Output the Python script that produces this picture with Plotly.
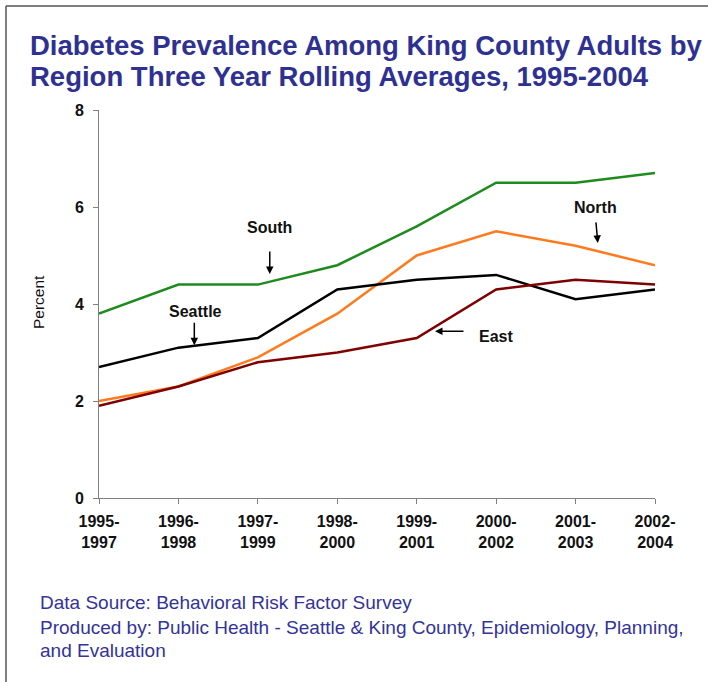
import plotly.graph_objects as go

periods = ["1995-<br>1997", "1996-<br>1998", "1997-<br>1999", "1998-<br>2000",
           "1999-<br>2001", "2000-<br>2002", "2001-<br>2003", "2002-<br>2004"]
south = [3.8, 4.4, 4.4, 4.8, 5.6, 6.5, 6.5, 6.7]
north = [2.0, 2.3, 2.9, 3.8, 5.0, 5.5, 5.2, 4.8]
seattle = [2.7, 3.1, 3.3, 4.3, 4.5, 4.6, 4.1, 4.3]
east = [1.9, 2.3, 2.8, 3.0, 3.3, 4.3, 4.5, 4.4]
y_ticks = [0, 2, 4, 6, 8]

W, H = 708, 682
L, R, T, B = 99, 53, 110, 184
PW, PH = W - L - R, H - T - B
FONT = "Arial, Liberation Sans, sans-serif"
BLUE = "#2E3192"

def px(x):
    return (x - L) / PW

def py(y):
    return (H - B - y) / PH

x_idx = list(range(len(periods)))
fig = go.Figure()
for name, vals, col in [("South", south, "#1E8B1E"), ("North", north, "#FF7A1F"),
                        ("Seattle", seattle, "#000000"), ("East", east, "#7F0000")]:
    fig.add_trace(go.Scatter(x=x_idx, y=vals, mode="lines", name=name,
                             line=dict(color=col, width=2.5), showlegend=False))

anns = []
labels = [("South", 2.15, 5.57), ("North", 6.25, 5.98), ("Seattle", 1.21, 3.84), ("East", 5.0, 3.34)]
for t, x, y in labels:
    anns.append(dict(x=x, y=y, xref="x", yref="y", text="<b>" + t + "</b>", showarrow=False,
                     font=dict(family=FONT, size=16, color="#111111")))
arrows = [(2.15, 4.62, 0, -24), (6.28, 5.26, -2, -22), (1.2, 3.15, 0, -24), (4.23, 3.44, 30, 0)]
for x, y, ax, ay in arrows:
    anns.append(dict(x=x, y=y, xref="x", yref="y", ax=ax, ay=ay, text="", showarrow=True,
                     arrowhead=2, arrowsize=1, arrowwidth=1.5, arrowcolor="#000000"))

anns.append(dict(x=px(28), y=py(46), xref="paper", yref="paper", xanchor="left", yanchor="middle",
                 text="<b>Diabetes Prevalence Among King County Adults by</b>", showarrow=False,
                 font=dict(family=FONT, size=27.5, color=BLUE)))
anns.append(dict(x=px(28), y=py(76), xref="paper", yref="paper", xanchor="left", yanchor="middle",
                 text="<b>Region Three Year Rolling Averages, 1995-2004</b>", showarrow=False,
                 font=dict(family=FONT, size=27.5, color=BLUE)))
anns.append(dict(x=px(38), y=py(302), xref="paper", yref="paper", xanchor="center", yanchor="middle",
                 text="Percent", textangle=-90,
                 showarrow=False, font=dict(family=FONT, size=15.5, color="#111111")))
for t, y in [("Data Source: Behavioral Risk Factor Survey", 602),
             ("Produced by: Public Health - Seattle & King County, Epidemiology, Planning,", 627),
             ("and Evaluation", 650)]:
    anns.append(dict(x=px(38), y=py(y), xref="paper", yref="paper", xanchor="left", yanchor="middle",
                     text=t, showarrow=False, font=dict(family=FONT, size=19, color="#33339A")))

shapes = [
    dict(type="line", xref="paper", yref="paper", x0=px(6), x1=px(708), y0=py(6), y1=py(6),
         line=dict(color="#555555", width=1.5)),
    dict(type="line", xref="paper", yref="paper", x0=px(6), x1=px(6), y0=py(6), y1=py(682),
         line=dict(color="#555555", width=1.5)),
]

fig.update_layout(
    width=W, height=H, margin=dict(l=L, r=R, t=T, b=B),
    paper_bgcolor="white", plot_bgcolor="white",
    annotations=anns, shapes=shapes,
    xaxis=dict(range=[0, 7], tickvals=x_idx, ticktext=periods, showgrid=False, zeroline=False,
               showline=True, linecolor="#808080", linewidth=1, ticks="outside", ticklen=5,
               tickcolor="#808080", ticklabelstandoff=4,
               tickfont=dict(family=FONT, size=16, color="#111111", weight="bold")),
    yaxis=dict(range=[0, 8], tickvals=y_ticks, showgrid=False, zeroline=False,
               showline=True, linecolor="#808080", linewidth=1, ticks="outside", ticklen=5,
               tickcolor="#808080", ticklabelstandoff=6,
               tickfont=dict(family=FONT, size=16, color="#111111", weight="bold")),
)
fig.write_html("out.html")
